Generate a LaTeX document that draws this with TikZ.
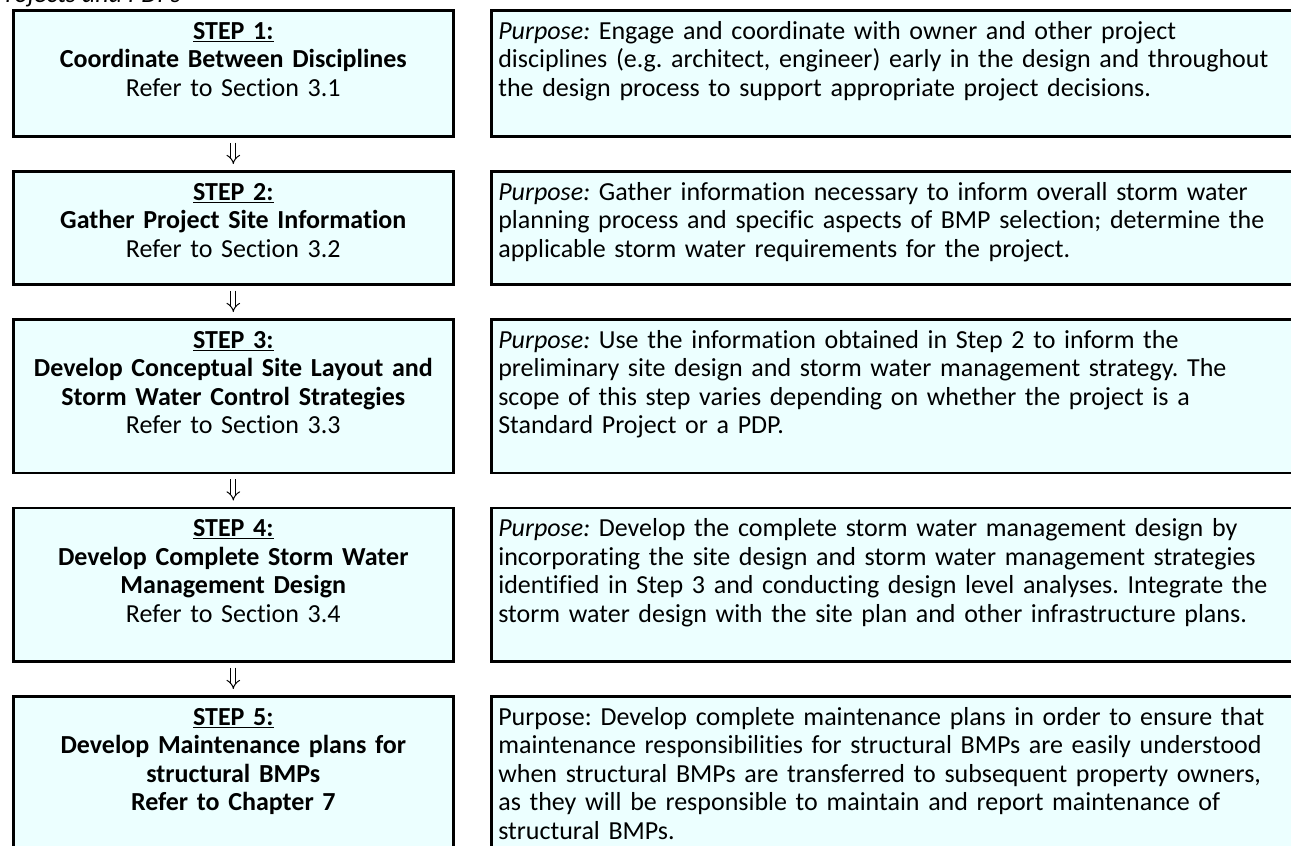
\documentclass[tikz,border=0pt]{standalone}
\usepackage{fontspec}
\setmainfont{Carlito}[Ligatures=NoCommon]
\usetikzlibrary{positioning,arrows.meta}
\definecolor{stepfill}{RGB}{236,255,255}
\frenchspacing

\begin{document}
\begin{tikzpicture}[x=1pt, y=1pt,
        box/.style={draw, line width=2.6pt, fill=stepfill, inner xsep=7pt, inner ysep=5pt,
                    text height=24pt, font=\fontsize{26}{28.5}\selectfont},
        stepbox/.style={box, text width=426pt, align=center},
        purpbox/.style={box, text width=820pt, align=left},
        nextstep/.style={draw, double, double distance=3.8pt, line width=1pt,
                         -{Implies[length=5.5pt, width=14pt]}, shorten <=5pt, shorten >=6pt}]
    \useasboundingbox (0,0) rectangle (1291,-846);

    \node (hdr) [anchor=base west, inner sep=0, font=\fontsize{26}{28.5}\selectfont\itshape] at (-8,-2) {Projects and PDPs};

    \node (step1) [stepbox, text depth=92pt, anchor=north west] at (12,-9)
        {\textbf{\underline{STEP 1:}}\\ \textbf{Coordinate Between Disciplines}\\ Refer to Section 3.1};
    \node (step2) [stepbox, text depth=79pt, below=32.4pt of step1]
        {\textbf{\underline{STEP 2:}}\\ \textbf{Gather Project Site Information}\\ Refer to Section 3.2};
    \node (step3) [stepbox, text depth=119.5pt, below=32.4pt of step2]
        {\textbf{\underline{STEP 3:}}\\ \textbf{Develop Conceptual Site Layout and}\\ \textbf{Storm Water Control Strategies}\\ Refer to Section 3.3};
    \node (step4) [stepbox, text depth=119.5pt, below=32.4pt of step3]
        {\textbf{\underline{STEP 4:}}\\ \textbf{Develop Complete Storm Water}\\ \textbf{Management Design}\\ Refer to Section 3.4};
    \node (step5) [stepbox, text depth=200pt, below=32.4pt of step4]
        {\textbf{\underline{STEP 5:}}\\ \textbf{Develop Maintenance plans for}\\ \textbf{structural BMPs}\\ \textbf{Refer to Chapter 7}};

    \node (purp1) [purpbox, text depth=92pt, right=35.4pt of step1]
        {\textit{Purpose:} Engage and coordinate with owner and other project\\
         disciplines (e.g. architect, engineer) early in the design and throughout\\
         the design process to support appropriate project decisions.};
    \node (purp2) [purpbox, text depth=79pt, right=35.4pt of step2]
        {\textit{Purpose:} Gather information necessary to inform overall storm water\\
         planning process and specific aspects of BMP selection; determine the\\
         applicable storm water requirements for the project.};
    \node (purp3) [purpbox, text depth=119.5pt, right=35.4pt of step3]
        {\textit{Purpose:} Use the information obtained in Step 2 to inform the\\
         preliminary site design and storm water management strategy. The\\
         scope of this step varies depending on whether the project is a\\
         Standard Project or a PDP.};
    \node (purp4) [purpbox, text depth=119.5pt, right=35.4pt of step4]
        {\textit{Purpose:} Develop the complete storm water management design by\\
         incorporating the site design and storm water management strategies\\
         identified in Step 3 and conducting design level analyses. Integrate the\\
         storm water design with the site plan and other infrastructure plans.};
    \node (purp5) [purpbox, text depth=200pt, right=35.4pt of step5]
        {Purpose: Develop complete maintenance plans in order to ensure that\\
         maintenance responsibilities for structural BMPs are easily understood\\
         when structural BMPs are transferred to subsequent property owners,\\
         as they will be responsible to maintain and report maintenance of\\
         structural BMPs.};

    \draw [nextstep] (step1) -- (step2);
    \draw [nextstep] (step2) -- (step3);
    \draw [nextstep] (step3) -- (step4);
    \draw [nextstep] (step4) -- (step5);
\end{tikzpicture}
\end{document}
